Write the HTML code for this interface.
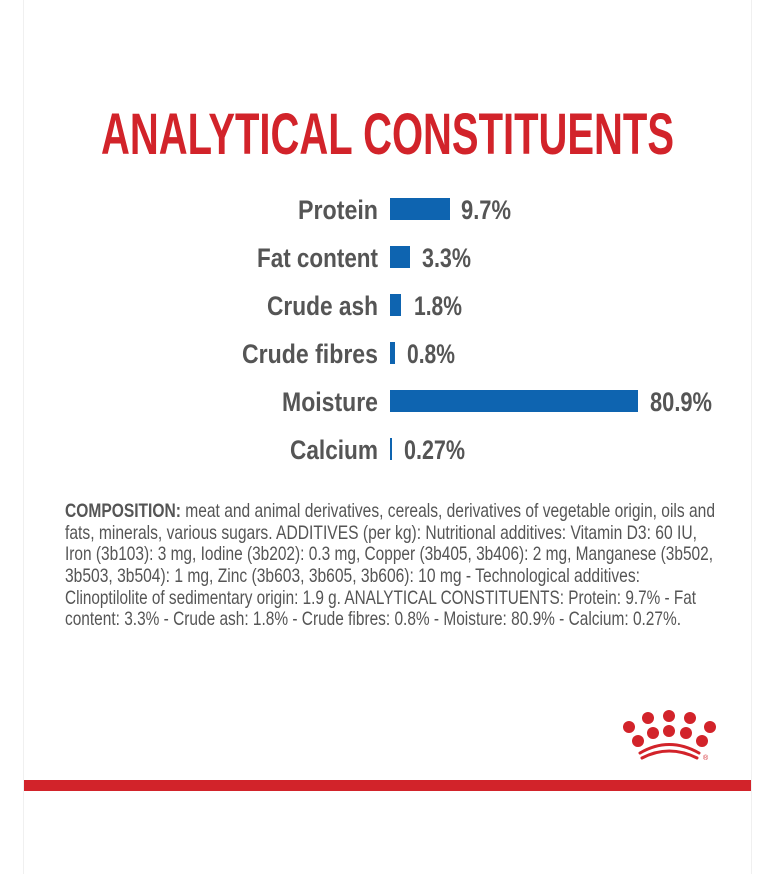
<!DOCTYPE html>
<html><head><meta charset="utf-8"><style>
html,body{margin:0;padding:0;background:#fff;}
svg{display:block;}
text{font-family:"Liberation Sans Narrow","Liberation Sans",sans-serif;}
</style></head><body>
<svg width="773" height="874" viewBox="0 0 773 874" xmlns="http://www.w3.org/2000/svg">
<rect width="773" height="874" fill="#fff"/>
<line x1="23.5" y1="0" x2="23.5" y2="874" stroke="#f0f0f0"/>
<line x1="751.5" y1="0" x2="751.5" y2="874" stroke="#f0f0f0"/>
<text x="101" y="154" font-size="58" font-weight="bold" fill="#d2232a" textLength="573" lengthAdjust="spacingAndGlyphs">ANALYTICAL CONSTITUENTS</text>
<g font-size="27" font-weight="bold" fill="#555">
<text x="298" y="219" textLength="80" lengthAdjust="spacingAndGlyphs">Protein</text>
<text x="257" y="267" textLength="121" lengthAdjust="spacingAndGlyphs">Fat content</text>
<text x="267" y="315" textLength="111" lengthAdjust="spacingAndGlyphs">Crude ash</text>
<text x="242" y="363" textLength="136" lengthAdjust="spacingAndGlyphs">Crude fibres</text>
<text x="282" y="411" textLength="96" lengthAdjust="spacingAndGlyphs">Moisture</text>
<text x="290" y="459" textLength="88" lengthAdjust="spacingAndGlyphs">Calcium</text>
<text x="461" y="219" textLength="50" lengthAdjust="spacingAndGlyphs">9.7%</text>
<text x="422" y="267" textLength="49" lengthAdjust="spacingAndGlyphs">3.3%</text>
<text x="414" y="315" textLength="48" lengthAdjust="spacingAndGlyphs">1.8%</text>
<text x="407" y="363" textLength="48" lengthAdjust="spacingAndGlyphs">0.8%</text>
<text x="650" y="411" textLength="62" lengthAdjust="spacingAndGlyphs">80.9%</text>
<text x="404" y="459" textLength="61" lengthAdjust="spacingAndGlyphs">0.27%</text>
</g>
<g fill="#0e64b0">
<rect x="390" y="198" width="60" height="22"/>
<rect x="390" y="246" width="20" height="22"/>
<rect x="390" y="294" width="11" height="22"/>
<rect x="390" y="342" width="5" height="22"/>
<rect x="390" y="390" width="248" height="22"/>
<rect x="390" y="438" width="2" height="22"/>
</g>
<g font-size="19.5" fill="#555">
<text x="65" y="517" textLength="650" lengthAdjust="spacingAndGlyphs"><tspan font-weight="bold">COMPOSITION:</tspan> meat and animal derivatives, cereals, derivatives of vegetable origin, oils and</text>
<text x="65" y="539" textLength="632" lengthAdjust="spacingAndGlyphs">fats, minerals, various sugars. ADDITIVES (per kg): Nutritional additives: Vitamin D3: 60 IU,</text>
<text x="65" y="560" textLength="648" lengthAdjust="spacingAndGlyphs">Iron (3b103): 3 mg, Iodine (3b202): 0.3 mg, Copper (3b405, 3b406): 2 mg, Manganese (3b502,</text>
<text x="65" y="582" textLength="575" lengthAdjust="spacingAndGlyphs">3b503, 3b504): 1 mg, Zinc (3b603, 3b605, 3b606): 10 mg - Technological additives:</text>
<text x="65" y="604" textLength="631" lengthAdjust="spacingAndGlyphs">Clinoptilolite of sedimentary origin: 1.9 g. ANALYTICAL CONSTITUENTS: Protein: 9.7% - Fat</text>
<text x="65" y="625" textLength="616" lengthAdjust="spacingAndGlyphs">content: 3.3% - Crude ash: 1.8% - Crude fibres: 0.8% - Moisture: 80.9% - Calcium: 0.27%.</text>
</g>
<g fill="#d2232a">
<circle cx="629" cy="727" r="6"/><circle cx="648" cy="718" r="6"/><circle cx="669" cy="716" r="6"/><circle cx="690" cy="718" r="6"/><circle cx="710" cy="727" r="6"/>
<circle cx="638" cy="741" r="6"/><circle cx="653" cy="733" r="6"/><circle cx="669" cy="731" r="6"/><circle cx="686" cy="733" r="6"/><circle cx="702" cy="741" r="6"/>
<text x="703" y="760" font-size="7">®</text>
</g>
<g fill="none" stroke="#d2232a" stroke-width="3" stroke-linecap="round">
<path d="M640 753 Q669 736 699 753"/>
<path d="M642 758 Q669 744 697 758"/>
</g>
<rect x="24" y="780" width="727" height="11" fill="#d2232a"/>
</svg>
</body></html>
